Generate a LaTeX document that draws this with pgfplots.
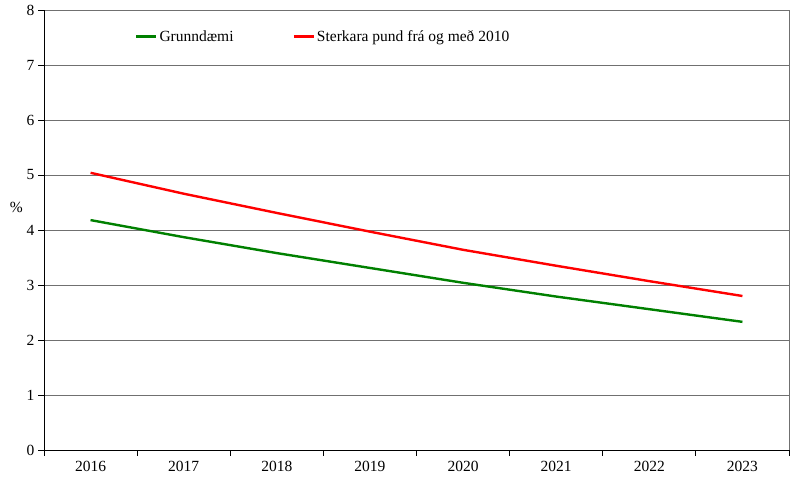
\documentclass[border=0pt]{standalone}
\usepackage{fontspec}
\setmainfont{Liberation Serif}
\usepackage{pgfplots}
\pgfplotsset{compat=1.18}
\definecolor{lgreen}{HTML}{008000}
\definecolor{lred}{HTML}{FF0000}
\definecolor{gridc}{HTML}{707070}
\begin{document}
\begin{tikzpicture}
\begin{axis}[
  scale only axis,
  width=745pt, height=440pt,
  xmin=-0.5, xmax=7.5, ymin=0, ymax=8,
  xtick={0,...,7},
  xticklabels={2016,2017,2018,2019,2020,2021,2022,2023},
  major x tick style={draw=none},
  minor xtick={-0.5,0.5,...,7.5},
  minor x tick style={black, line width=0.8pt},
  minor tick length=6pt,
  ytick={0,...,8},
  major tick length=6pt,
  tick align=outside,
  y tick style={black, line width=0.8pt},
  tick label style={font=\fontsize{15.5}{18}\selectfont},
  /pgf/number format/assume math mode=true,
  xticklabel style={yshift=-2pt},
  ymajorgrids,
  grid style={gridc, line width=0.8pt},
  axis line style={line width=0.8pt},
  axis x line*=bottom,
  axis y line*=left,
  every outer x axis line/.append style={-},
  every outer y axis line/.append style={-},
  legend columns=2,
  legend style={draw=none, fill=none, at={(0.118,0.94)}, anchor=west,
    font=\fontsize{15.5}{18}\selectfont, /tikz/every even column/.append style={column sep=57pt}},
  legend image code/.code={\draw[#1] (0pt,0pt) -- (20pt,0pt);},
  clip=false,
]
\addplot[lgreen, line width=2.4pt] coordinates {(0,4.18) (1,3.87) (2,3.58) (3,3.31) (4,3.04) (5,2.79) (6,2.56) (7,2.33)};
\addlegendentry{Grunndæmi}
\addplot[lred, line width=2.4pt] coordinates {(0,5.04) (1,4.66) (2,4.31) (3,3.97) (4,3.64) (5,3.35) (6,3.07) (7,2.80)};
\addlegendentry{Sterkara pund frá og með 2010}
\draw[gridc, line width=0.8pt] (rel axis cs:1,0) -- (rel axis cs:1,1);
\node[font=\fontsize{15.5}{18}\selectfont] at (axis description cs:-0.037,0.552) {\%};
\end{axis}
\path (current axis.south west) ++(-44pt,-30pt) coordinate (bl);
\path (current axis.north east) ++(1pt,10pt) coordinate (tr);
\useasboundingbox (bl) rectangle (tr);
\end{tikzpicture}
\end{document}
